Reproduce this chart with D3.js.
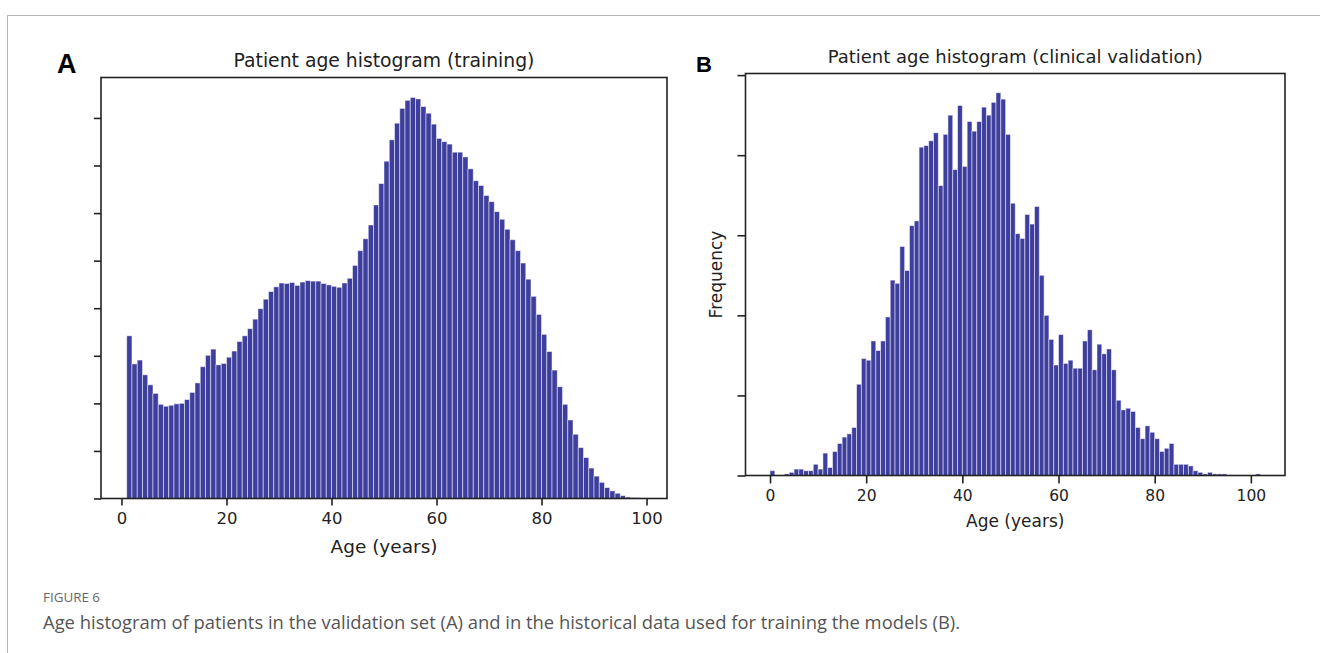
<!DOCTYPE html>
<html>
<head>
<meta charset="utf-8">
<script src="https://cdn.jsdelivr.net/npm/d3@7"></script>
<style>
  body { margin: 0; background: #fff; }
  svg { display: block; }
</style>
</head>
<body>
<script>
"use strict";

let width = 1320;
let height = 653;

// panel A: one-year bins starting at age 1 (counts, tick step 1000)
let binStartA = 1;
let countsA = [
  3420, 2830, 2910, 2600, 2390, 2210, 1980, 1940, 1960, 1990,
  2000, 2080, 2230, 2430, 2770, 3010, 3140, 2810, 2840, 2970,
  3100, 3300, 3420, 3570, 3770, 3990, 4190, 4350, 4450, 4530,
  4520, 4540, 4480, 4550, 4580, 4570, 4570, 4520, 4490, 4460,
  4440, 4530, 4630, 4900, 5210, 5460, 5750, 6170, 6620, 7090,
  7540, 7890, 8200, 8370, 8430, 8400, 8240, 8100, 7870, 7570,
  7500, 7450, 7280, 7280, 7180, 6930, 6680, 6580, 6370, 6240,
  6030, 5870, 5660, 5440, 5210, 4950, 4610, 4250, 3870, 3450,
  3090, 2700, 2350, 1980, 1650, 1350, 1070, 860, 640, 470,
  340, 230, 160, 110, 60, 30, 20, 15
];

// panel B: one-year bins starting at age 0
let binStartB = 0;
let countsB = [
  3, 0, 0, 1, 2, 4, 4, 3, 3, 7,
  4, 14, 5, 15, 20, 24, 26, 30, 57, 73,
  72, 84, 78, 84, 99, 122, 120, 143, 128, 156,
  159, 205, 206, 209, 214, 181, 213, 225, 191, 231,
  193, 221, 215, 221, 230, 225, 233, 239, 235, 213,
  170, 151, 148, 163, 157, 168, 125, 100, 85, 69,
  88, 70, 72, 67, 67, 84, 91, 66, 82, 76,
  79, 66, 47, 41, 42, 40, 30, 23, 31, 27,
  23, 15, 17, 20, 7, 7, 7, 6, 3, 2,
  1, 2, 1, 1, 1, 0, 0, 0, 0, 0,
  0, 1
];

let xTicks = [0, 20, 40, 60, 80, 100];
let yTicksA = [0, 1000, 2000, 3000, 4000, 5000, 6000, 7000, 8000];
let yTicksB = [0, 50, 100, 150, 200, 250];

let titleA = "Patient age histogram (training)";
let titleB = "Patient age histogram (clinical validation)";
let xLabel = "Age (years)";
let yLabelB = "Frequency";
let figLabel = "FIGURE 6";
let caption = "Age histogram of patients in the validation set (A) and in the historical data used for training the models (B).";

let barColor = "#3e3e9e";
let axisColor = "#222";
let font = "'DejaVu Sans', sans-serif";

let svg = d3.select("body").append("svg").attr("width", width).attr("height", height);

// page frame (top and left rules)
svg.append("path")
  .attr("d", "M7.5,653 V15.5 H1320")
  .attr("fill", "none")
  .attr("stroke", "#b5b5b5")
  .attr("stroke-width", 1);

function drawPanel(opt) {
  let x = d3.scaleLinear().domain(opt.xDomain).range([opt.left, opt.right]);
  let y = d3.scaleLinear().domain(opt.yDomain).range([opt.bottom, opt.top]);
  let g = svg.append("g");

  g.selectAll("rect.bar")
    .data(opt.counts)
    .enter()
    .append("rect")
      .attr("class", "bar")
      .attr("x", function(d, i) { return x(opt.binStart + i); })
      .attr("width", function(d, i) { return x(opt.binStart + i + 1) - x(opt.binStart + i); })
      .attr("y", function(d) { return y(d); })
      .attr("height", function(d) { return y(0) - y(d); })
      .attr("fill", barColor)
      .attr("stroke", "rgba(255,255,255,0.55)")
      .attr("stroke-width", 0.9);

  let xAxis = g.append("g")
    .attr("transform", "translate(0," + opt.bottom + ")")
    .call(d3.axisBottom(x).tickValues(xTicks).tickSize(opt.tickLen).tickPadding(opt.tickPad).tickSizeOuter(0));
  xAxis.select(".domain").remove();
  xAxis.selectAll("line").attr("stroke", axisColor).attr("stroke-width", 1.6);
  xAxis.selectAll("text")
    .attr("fill", axisColor)
    .style("font-family", font)
    .style("font-size", opt.tickFont + "px");

  let yAxis = g.append("g")
    .attr("transform", "translate(" + opt.left + ",0)")
    .call(d3.axisLeft(y).tickValues(opt.yTicks).tickSize(opt.tickLen).tickFormat("").tickSizeOuter(0));
  yAxis.select(".domain").remove();
  yAxis.selectAll("line").attr("stroke", axisColor).attr("stroke-width", 1.6);

  g.append("rect")
    .attr("x", opt.left)
    .attr("y", opt.top)
    .attr("width", opt.right - opt.left)
    .attr("height", opt.bottom - opt.top)
    .attr("fill", "none")
    .attr("stroke", axisColor)
    .attr("stroke-width", 1.6);

  g.append("text")
    .attr("x", (opt.left + opt.right) / 2)
    .attr("y", opt.top - 11)
    .attr("text-anchor", "middle")
    .attr("fill", axisColor)
    .style("font-family", font)
    .style("font-size", opt.titleFont + "px")
    .text(opt.title);

  g.append("text")
    .attr("x", (opt.left + opt.right) / 2)
    .attr("y", opt.bottom + opt.labelGap)
    .attr("text-anchor", "middle")
    .attr("fill", axisColor)
    .style("font-family", font)
    .style("font-size", opt.labelFont + "px")
    .text(xLabel);

  g.append("text")
    .attr("x", opt.letterX)
    .attr("y", opt.letterY)
    .attr("fill", "#000")
    .style("font-family", "'Liberation Sans', Arial, sans-serif")
    .style("font-weight", "bold")
    .style("font-size", opt.letterFont + "px")
    .text(opt.letter);

  if (opt.yLabel) {
    g.append("text")
      .attr("transform", "translate(" + opt.yLabelX + "," + (opt.top + opt.bottom) / 2 + ") rotate(-90)")
      .attr("text-anchor", "middle")
      .attr("fill", axisColor)
      .style("font-family", font)
      .style("font-size", opt.labelFont + "px")
      .text(opt.yLabel);
  }
}

drawPanel({
  counts: countsA, binStart: binStartA, yTicks: yTicksA,
  xDomain: [-3.9, 103.9], yDomain: [0, 8850],
  left: 101, right: 667, top: 77.5, bottom: 498.5,
  tickLen: 7, tickPad: 7, tickFont: 16.5, labelFont: 18.5, titleFont: 18.8, labelGap: 54,
  title: titleA, letter: "A", letterX: 57, letterY: 73, letterFont: 27
});

drawPanel({
  counts: countsB, binStart: binStartB, yTicks: yTicksB,
  xDomain: [-5.1, 107.1], yDomain: [0, 251],
  left: 745.5, right: 1285, top: 73.5, bottom: 475.5,
  tickLen: 8, tickPad: 6, tickFont: 15.5, labelFont: 17, titleFont: 18, labelGap: 51,
  title: titleB, letter: "B", letterX: 696, letterY: 72, letterFont: 22,
  yLabel: yLabelB, yLabelX: 722
});

// caption
svg.append("text")
  .attr("x", 43)
  .attr("y", 602)
  .attr("fill", "#666")
  .style("font-family", "'Open Sans', sans-serif")
  .style("font-size", "13.4px")
  .text(figLabel);

svg.append("text")
  .attr("x", 43)
  .attr("y", 629)
  .attr("fill", "#555")
  .style("font-family", "'Open Sans', sans-serif")
  .style("font-size", "18.4px")
  .text(caption);
</script>
</body>
</html>
